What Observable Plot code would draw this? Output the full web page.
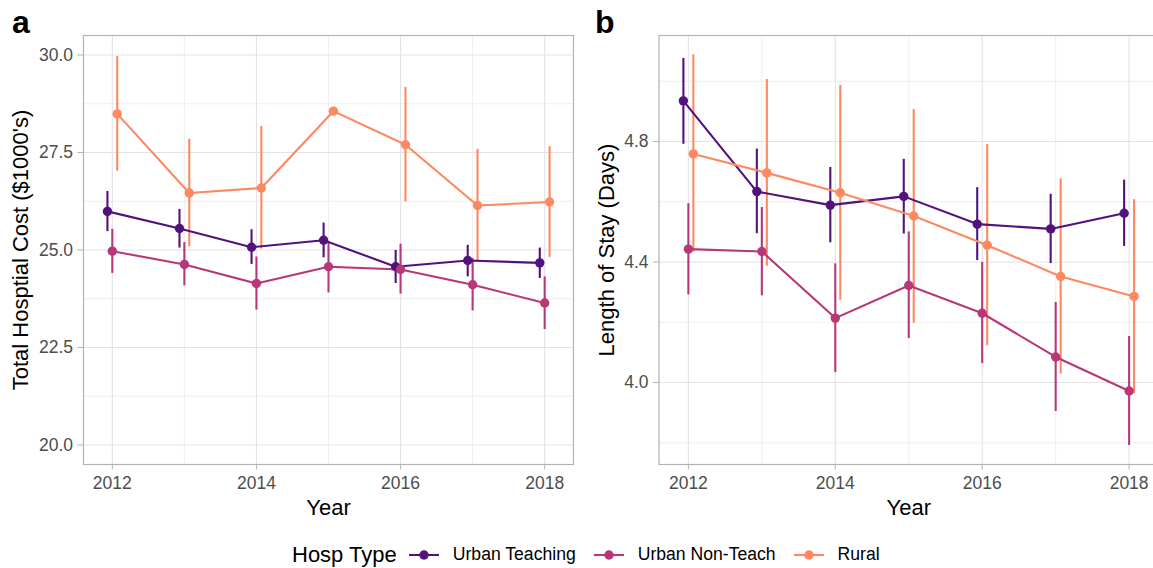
<!DOCTYPE html>
<html>
<head>
<meta charset="utf-8">
<script src="https://cdn.jsdelivr.net/npm/d3@7"></script>
<script src="https://cdn.jsdelivr.net/npm/@observablehq/plot@0.6"></script>
<style>
  html, body { margin: 0; padding: 0; background: #fff; }
  body { width: 1153px; height: 568px; overflow: hidden; position: relative;
         font-family: "Liberation Sans", Arial, sans-serif; }
  .panel { position: absolute; top: 0; }
  .tag { position: absolute; font-weight: bold; font-size: 32px; line-height: 1; color: #000; }
  #legend { position: absolute; left: 292px; top: 540px; height: 30px; display: flex;
            align-items: center; white-space: nowrap; color: #000; line-height: 1; }
  #legend .title { font-size: 22px; margin-right: 12px; }
  #legend .lab { font-size: 17.6px; margin-left: 14px; margin-right: 18px; }
</style>
</head>
<body>
<div class="tag" style="left:12px; top:6px;">a</div>
<div class="tag" style="left:595px; top:6px;">b</div>
<div id="pa" class="panel" style="left:0; width:578px;"></div>
<div id="pb" class="panel" style="left:578px; width:580px;"></div>
<div id="legend"></div>
<script>
// ---------- data ----------
const years = [2012, 2013, 2014, 2015, 2016, 2017, 2018];
const types = ["Urban Teaching", "Urban Non-Teach", "Rural"];
const colors = ["#51127c", "#b73779", "#fc8961"];
const dodge = [-0.068, 0, 0.068];

// Panel a: Total hospital cost ($1000's)
const costUT     = [25.99, 25.55, 25.07, 25.25, 24.57, 24.73, 24.67];
const costUTlo   = [25.47, 25.05, 24.63, 24.80, 24.14, 24.31, 24.27];
const costUThi   = [26.50, 26.04, 25.52, 25.69, 24.99, 25.12, 25.05];
const costUNT    = [24.97, 24.63, 24.14, 24.57, 24.50, 24.11, 23.64];
const costUNTlo  = [24.40, 24.08, 23.46, 23.90, 23.87, 23.44, 22.96];
const costUNThi  = [25.53, 25.19, 24.82, 25.20, 25.15, 24.78, 24.31];
const costR      = [28.49, 26.46, 26.59, 28.56, 27.70, 26.14, 26.23];
const costRlo    = [27.02, 25.08, 25.02, null, 26.23, 24.72, 24.81];
const costRhi    = [29.96, 27.84, 28.17, null, 29.17, 27.58, 27.65];

// Panel b: Length of stay (days)
const losUT      = [4.935, 4.634, 4.589, 4.618, 4.526, 4.510, 4.562];
const losUTlo    = [4.791, 4.494, 4.464, 4.493, 4.405, 4.395, 4.452];
const losUThi    = [5.076, 4.775, 4.714, 4.741, 4.647, 4.625, 4.672];
const losUNT     = [4.443, 4.435, 4.214, 4.322, 4.230, 4.085, 3.972];
const losUNTlo   = [4.291, 4.288, 4.033, 4.146, 4.063, 3.904, 3.791];
const losUNThi   = [4.594, 4.581, 4.394, 4.500, 4.399, 4.266, 4.153];
const losR       = [4.759, 4.696, 4.630, 4.553, 4.456, 4.352, 4.286];
const losRlo     = [4.433, 4.386, 4.273, 4.197, 4.122, 4.028, 3.963];
const losRhi     = [5.088, 5.006, 4.986, 4.906, 4.790, 4.676, 4.607];

const xTicks = [2012, 2014, 2016, 2018];
const xMinor = [2013, 2015, 2017];
const costTicks = [20, 22.5, 25, 27.5, 30];
const costMinor = [21.25, 23.75, 26.25, 28.75];
const losTicks = [4.0, 4.4, 4.8];
const losMinor = [3.8, 4.2, 4.6, 5.0];

function rowsOf(series) {
  const rows = [];
  series.forEach(([v, lo, hi], k) => {
    years.forEach((yr, i) => {
      rows.push({type: types[k], k, year: yr, x: yr + dodge[k], v: v[i], lo: lo[i], hi: hi[i]});
    });
  });
  return rows;
}

const costRows = rowsOf([[costUT, costUTlo, costUThi], [costUNT, costUNTlo, costUNThi], [costR, costRlo, costRhi]]);
const losRows = rowsOf([[losUT, losUTlo, losUThi], [losUNT, losUNTlo, losUNThi], [losR, losRlo, losRhi]]);

function panel({rows, yDomain, yTicks, yMinor, yLabel, width, marginLeft, titleDx}) {
  const grid = "#e3e3e3";
  return Plot.plot({
    width, height: 530,
    marginLeft, marginRight: width === 578 ? 5 : 0, marginTop: 35, marginBottom: 66,
    style: "max-width:none; overflow:visible; font-family:'Liberation Sans', Arial, sans-serif; color:#000; background:transparent;",
    x: {domain: [2011.6, 2018.4]},
    y: {domain: yDomain},
    color: {domain: types, range: colors},
    marks: [
      Plot.gridX(xMinor, {stroke: grid, strokeOpacity: 1, strokeWidth: 0.6}),
      Plot.gridY(yMinor, {stroke: grid, strokeOpacity: 1, strokeWidth: 0.6}),
      Plot.gridX(xTicks, {stroke: grid, strokeOpacity: 1, strokeWidth: 1.1}),
      Plot.gridY(yTicks, {stroke: grid, strokeOpacity: 1, strokeWidth: 1.1}),
      Plot.frame({stroke: "#b3b3b3", strokeWidth: 1.2}),
      Plot.axisX(xTicks, {tickSize: 5.5, tickPadding: 6.5, fontSize: 17.5, stroke: "#b3b3b3", fill: "#4d4d4d",
                          tickFormat: d => String(d), label: null}),
      Plot.axisY(yTicks, {tickSize: 5.5, tickPadding: 5, fontSize: 17.5, stroke: "#b3b3b3", fill: "#4d4d4d",
                          tickFormat: d3.format(".1f"), label: null}),
      Plot.ruleX(rows.filter(d => d.lo != null), {x: "x", y1: "lo", y2: "hi", stroke: "type", strokeWidth: 2.1}),
      Plot.line(rows, {x: "x", y: "v", z: "type", stroke: "type", strokeWidth: 2.1}),
      Plot.dot(rows, {x: "x", y: "v", fill: "type", r: 4.7}),
      Plot.text(["Year"], {frameAnchor: "bottom", dy: 43, lineAnchor: "middle", textAnchor: "middle",
                           fontSize: 22, fill: "#000", text: d => d}),
      Plot.text([yLabel], {frameAnchor: "left", dx: titleDx, rotate: -90, lineAnchor: "middle", textAnchor: "middle",
                           fontSize: 22, fill: "#000", text: d => d})
    ]
  });
}

document.getElementById("pa").append(panel({
  rows: costRows, yDomain: [19.5, 30.5], yTicks: costTicks, yMinor: costMinor,
  yLabel: "Total Hosptial Cost ($1000's)", width: 578, marginLeft: 83, titleDx: -63
}));
document.getElementById("pb").append(panel({
  rows: losRows, yDomain: [3.728, 5.152], yTicks: losTicks, yMinor: losMinor,
  yLabel: "Length of Stay (Days)", width: 580, marginLeft: 80.5, titleDx: -52
}));

// ---------- legend ----------
const legend = document.getElementById("legend");
const t = document.createElement("span");
t.className = "title"; t.textContent = "Hosp Type";
legend.append(t);
types.forEach((name, k) => {
  const ns = "http://www.w3.org/2000/svg";
  const svg = document.createElementNS(ns, "svg");
  svg.setAttribute("width", 30); svg.setAttribute("height", 20);
  const ln = document.createElementNS(ns, "line");
  ln.setAttribute("x1", 0); ln.setAttribute("x2", 30); ln.setAttribute("y1", 10); ln.setAttribute("y2", 10);
  ln.setAttribute("stroke", colors[k]); ln.setAttribute("stroke-width", 2.1);
  const c = document.createElementNS(ns, "circle");
  c.setAttribute("cx", 15); c.setAttribute("cy", 10); c.setAttribute("r", 4.7); c.setAttribute("fill", colors[k]);
  svg.append(ln, c);
  legend.append(svg);
  const s = document.createElement("span");
  s.className = "lab"; s.textContent = name;
  legend.append(s);
});
</script>
</body>
</html>
